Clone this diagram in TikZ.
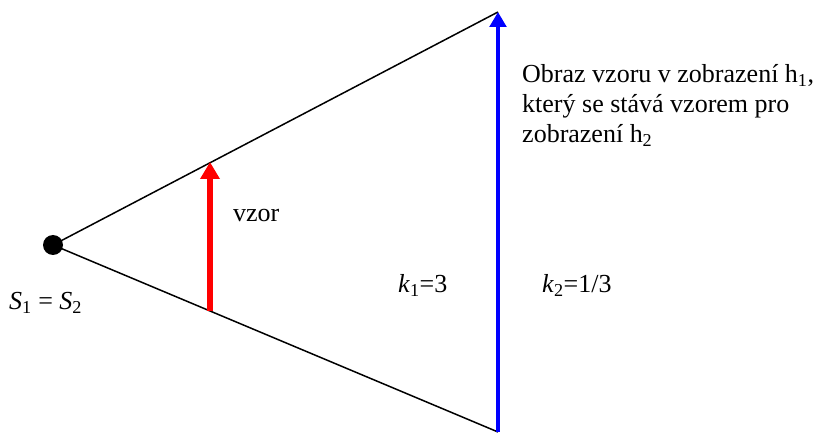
\documentclass[tikz,border=0pt]{standalone}
\usepackage{fontspec}
\setmainfont{Liberation Serif}
\usetikzlibrary{arrows.meta}
\definecolor{vzorR}{RGB}{255,0,0}
\definecolor{obrazB}{RGB}{0,0,255}
\newcommand{\txt}{\fontsize{26bp}{30bp}\selectfont}

\begin{document}
\begin{tikzpicture}[x=1bp,y=-1bp,
  paprsek/.style={line width=1.5bp,black},
  sipka/.style={-{Triangle[length=#1,width=#1*1.1]}},
  popis/.style={font=\txt,inner sep=0pt,anchor=base west}]
\useasboundingbox (0,0) rectangle (820,433);
% stred stejnolehlosti a paprsky
\coordinate (S) at (53,245);
\coordinate (A) at (498,12);
\coordinate (B) at (498,432);
\draw[paprsek] (S)--(A);
\draw[paprsek] (S)--(B);
\fill (S) circle (10);
% vzor a obraz
\coordinate (V1) at (210,311);
\coordinate (V2) at (210,162);
\draw[vzorR,line width=6bp,sipka=17bp] (V1)--(V2);
\draw[obrazB,line width=4bp,sipka=15bp] (B)--(A);
% popisky
\node[popis] (lS) at (9,310) {\textit{S}\textsubscript{1} = \textit{S}\textsubscript{2}};
\node[popis] (lvzor) at (233,222) {vzor};
\node[popis] (lk1) at (398,293) {\textit{k}\textsubscript{1}=3};
\node[popis] (lk2) at (542,293) {\textit{k}\textsubscript{2}=1/3};
\node[popis,align=left] (lobraz) at (522,143) {Obraz vzoru v zobrazení h\textsubscript{1},\\
který se stává vzorem pro\\ zobrazení h\textsubscript{2}};
\end{tikzpicture}
\end{document}
